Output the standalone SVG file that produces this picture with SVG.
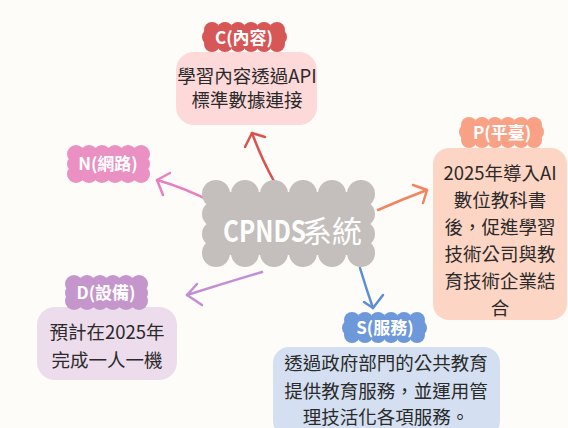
<svg xmlns="http://www.w3.org/2000/svg" width="568" height="428" viewBox="0 0 568 428">
<style>
.lbl{font-family:"Noto Sans CJK TC","Noto Sans",sans-serif;font-weight:700;font-size:17px;fill:#ffffff;text-anchor:middle}
.txt{font-family:"Noto Sans CJK TC","Noto Sans",sans-serif;font-size:18.5px;fill:#2a2a2a;text-anchor:middle}
.conn{fill:none;stroke-width:2.5;stroke-linecap:round;stroke-linejoin:round}
.ctr{font-family:"Noto Sans CJK TC","Noto Sans",sans-serif;fill:#ffffff}
</style>
<rect width="568" height="428" fill="#fdfcf8"/>
<g id="connectors">
  <g stroke="#d9534f" class="conn"><path class="conn" d="M275 183 Q262 160 252 133"/><path class="conn" d="M245 147 L252 133 L265 137"/></g>
  <g stroke="#f4845f" class="conn"><path class="conn" d="M378 210 Q403 199 427 190"/><path class="conn" d="M413 185 L427 190 L423 203"/></g>
  <g stroke="#5b8ed6" class="conn"><path class="conn" d="M360 268 Q366 288 373 308"/><path class="conn" d="M364 302 L373 308 L383 295"/></g>
  <g stroke="#c38ed3" class="conn"><path class="conn" d="M262 272 Q225 283 187 295"/><path class="conn" d="M197 284 L187 295 L202 305"/></g>
  <g stroke="#e77fc0" class="conn"><path class="conn" d="M212 202 Q185 188 157 180"/><path class="conn" d="M170 173 L157 180 L163 195"/></g>
</g>
<g id="center" fill="#c4bfbc">
  <rect x="214" y="192" width="150" height="63"/>
  <circle cx="216" cy="194" r="14"/><circle cx="245" cy="194" r="14"/><circle cx="274" cy="194" r="14"/><circle cx="303" cy="194" r="14"/><circle cx="332" cy="194" r="14"/><circle cx="361" cy="194" r="14"/>
  <circle cx="216" cy="253" r="14"/><circle cx="245" cy="253" r="14"/><circle cx="274" cy="253" r="14"/><circle cx="303" cy="253" r="14"/><circle cx="332" cy="253" r="14"/><circle cx="361" cy="253" r="14"/>
  <circle cx="215" cy="214" r="13"/><circle cx="215" cy="234" r="13"/><circle cx="362" cy="214" r="13"/><circle cx="362" cy="234" r="13"/>
  <text class="ctr" transform="translate(223 242) scale(0.84 1)" x="0" y="0" font-size="29" font-weight="700">CPNDS</text>
  <text class="ctr" x="302" y="242" font-size="30" font-weight="400">系統</text>
</g>
<g id="nodeC">
  <rect x="176" y="52" width="141" height="73" rx="18" fill="#fdd9da"/>
  <g fill="#d75656">
    <rect x="208" y="28" width="72" height="18"/>
    <circle cx="212" cy="30" r="8"/><circle cx="225" cy="30" r="8"/><circle cx="238" cy="30" r="8"/><circle cx="251" cy="30" r="8"/><circle cx="264" cy="30" r="8"/><circle cx="277" cy="30" r="8"/>
    <circle cx="212" cy="44" r="8"/><circle cx="225" cy="44" r="8"/><circle cx="238" cy="44" r="8"/><circle cx="251" cy="44" r="8"/><circle cx="264" cy="44" r="8"/><circle cx="277" cy="44" r="8"/>
    <circle cx="210" cy="37" r="8"/><circle cx="279" cy="37" r="8"/>
  </g>
  <text class="lbl" x="244" y="44">C(內容)</text>
  <text class="txt" x="247" y="83" font-size="16">學習內容透過API</text>
  <text class="txt" x="247" y="107" font-size="16">標準數據連接</text>
</g>
<g id="nodeP">
  <rect x="433" y="148" width="134" height="172" rx="16" fill="#fdd5c4"/>
  <g fill="#f9a184">
    <rect x="465" y="123" width="73" height="19"/>
    <circle cx="469" cy="125" r="8"/><circle cx="482" cy="125" r="8"/><circle cx="495" cy="125" r="8"/><circle cx="508" cy="125" r="8"/><circle cx="521" cy="125" r="8"/><circle cx="534" cy="125" r="8"/>
    <circle cx="469" cy="140" r="8"/><circle cx="482" cy="140" r="8"/><circle cx="495" cy="140" r="8"/><circle cx="508" cy="140" r="8"/><circle cx="521" cy="140" r="8"/><circle cx="534" cy="140" r="8"/>
    <circle cx="467" cy="132" r="8"/><circle cx="536" cy="132" r="8"/>
  </g>
  <text class="lbl" x="502" y="139">P(平臺)</text>
  <text class="txt" x="500" y="180">2025年導入AI</text>
  <text class="txt" x="500" y="207">數位教科書</text>
  <text class="txt" x="500" y="234">後，促進學習</text>
  <text class="txt" x="500" y="261">技術公司與教</text>
  <text class="txt" x="500" y="288">育技術企業結</text>
  <text class="txt" x="500" y="315">合</text>
</g>
<g id="nodeN">
  <g fill="#ea90c2">
    <rect x="72" y="151" width="74" height="26"/>
    <circle cx="76" cy="154" r="9"/><circle cx="89" cy="154" r="9"/><circle cx="102" cy="154" r="9"/><circle cx="115" cy="154" r="9"/><circle cx="128" cy="154" r="9"/><circle cx="141" cy="154" r="9"/>
    <circle cx="76" cy="174" r="9"/><circle cx="89" cy="174" r="9"/><circle cx="102" cy="174" r="9"/><circle cx="115" cy="174" r="9"/><circle cx="128" cy="174" r="9"/><circle cx="141" cy="174" r="9"/>
    <circle cx="76" cy="164" r="9"/><circle cx="141" cy="164" r="9"/>
  </g>
  <text class="lbl" x="108" y="170">N(網路)</text>
</g>
<g id="nodeD">
  <rect x="37" y="307" width="140" height="73" rx="18" fill="#ecdcec"/>
  <g fill="#c596cb">
    <rect x="70" y="282" width="73" height="21"/>
    <circle cx="74" cy="284" r="9"/><circle cx="87" cy="284" r="9"/><circle cx="100" cy="284" r="9"/><circle cx="113" cy="284" r="9"/><circle cx="126" cy="284" r="9"/><circle cx="139" cy="284" r="9"/>
    <circle cx="74" cy="301" r="9"/><circle cx="87" cy="301" r="9"/><circle cx="100" cy="301" r="9"/><circle cx="113" cy="301" r="9"/><circle cx="126" cy="301" r="9"/><circle cx="139" cy="301" r="9"/>
    <circle cx="74" cy="293" r="9"/><circle cx="139" cy="293" r="9"/>
  </g>
  <text class="lbl" x="106" y="299">D(設備)</text>
  <text class="txt" x="107" y="339">預計在2025年</text>
  <text class="txt" x="107" y="367">完成一人一機</text>
</g>
<g id="nodeS">
  <rect x="273" y="347" width="227" height="90" rx="16" fill="#d4e0f1"/>
  <g fill="#6d98d9">
    <rect x="348" y="318" width="74" height="19"/>
    <circle cx="352" cy="320" r="8"/><circle cx="365" cy="320" r="8"/><circle cx="378" cy="320" r="8"/><circle cx="391" cy="320" r="8"/><circle cx="404" cy="320" r="8"/><circle cx="417" cy="320" r="8"/>
    <circle cx="352" cy="335" r="8"/><circle cx="365" cy="335" r="8"/><circle cx="378" cy="335" r="8"/><circle cx="391" cy="335" r="8"/><circle cx="404" cy="335" r="8"/><circle cx="417" cy="335" r="8"/>
    <circle cx="350" cy="328" r="8"/><circle cx="419" cy="328" r="8"/>
  </g>
  <text class="lbl" x="385" y="334">S(服務)</text>
  <text class="txt" x="386" y="370">透過政府部門的公共教育</text>
  <text class="txt" x="386" y="398">提供教育服務，並運用管</text>
  <text class="txt" x="386" y="424">理技活化各項服務。</text>
</g>
</svg>
